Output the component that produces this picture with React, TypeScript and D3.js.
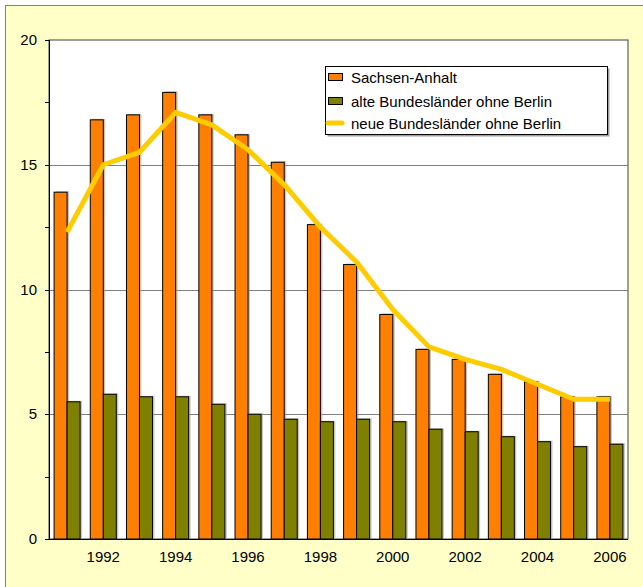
import * as d3 from "d3";
import React, { useRef, useEffect } from "react";

// Jahre und Werte (Schätzwerte aus der Grafik)
const years = [1991, 1992, 1993, 1994, 1995, 1996, 1997, 1998, 1999, 2000, 2001, 2002, 2003, 2004, 2005, 2006];
const sachsenAnhalt = [13.9, 16.8, 17.0, 17.9, 17.0, 16.2, 15.1, 12.6, 11.0, 9.0, 7.6, 7.2, 6.6, 6.3, 5.7, 5.7];
const alteLaender = [5.5, 5.8, 5.7, 5.7, 5.4, 5.0, 4.8, 4.7, 4.8, 4.7, 4.4, 4.3, 4.1, 3.9, 3.7, 3.8];
const neueLaender = [12.3, 15.0, 15.5, 17.1, 16.6, 15.6, 14.2, 12.5, 11.1, 9.2, 7.7, 7.2, 6.8, 6.2, 5.6, 5.6];
const yTicks = [0, 5, 10, 15, 20];
const seriesNames = ["Sachsen-Anhalt", "alte Bundesländer ohne Berlin", "neue Bundesländer ohne Berlin"];

const W = 643;
const H = 587;
const left = 49;
const top = 40;
const right = 628;
const bottom = 539;
const font = "'Liberation Sans', Arial, sans-serif";

function App() {
  const ref = useRef<SVGSVGElement>(null);

  useEffect(() => {
    const svg = d3.select(ref.current);
    svg.selectAll("*").remove();

    // Hintergrund
    svg.append("rect").attr("width", W).attr("height", H).attr("fill", "#ffffff");
    svg
      .append("rect")
      .attr("x", 5.5)
      .attr("y", 5.5)
      .attr("width", W + 10)
      .attr("height", H + 10)
      .attr("fill", "#ffffc8")
      .attr("stroke", "#808080");

    const x = d3.scaleBand<number>().domain(years).range([left, right]);
    const y = d3.scaleLinear().domain([0, 20]).range([bottom, top]);

    svg
      .append("rect")
      .attr("x", left)
      .attr("y", top)
      .attr("width", right - left)
      .attr("height", bottom - top)
      .attr("fill", "#ffffff")
      .attr("stroke", "#404040");

    // Gitterlinien
    svg
      .append("g")
      .selectAll("line")
      .data([5, 10, 15])
      .enter()
      .append("line")
      .attr("x1", left)
      .attr("x2", right)
      .attr("y1", (d) => Math.round(y(d)) + 0.5)
      .attr("y2", (d) => Math.round(y(d)) + 0.5)
      .attr("stroke", "#808080");

    const bw = 13;
    const drawBars = (vals: number[], offset: number, color: string) => {
      const g = svg.append("g");
      g.selectAll("rect.shadow")
        .data(vals)
        .enter()
        .append("rect")
        .attr("class", "shadow")
        .attr("x", (d, i) => x(years[i])! + x.bandwidth() / 2 + offset + 2)
        .attr("y", (d) => y(d) - 1)
        .attr("width", bw)
        .attr("height", (d) => bottom - y(d))
        .attr("fill", "#a0a0a0")
        .attr("opacity", 0.6);
      g.selectAll("rect.bar")
        .data(vals)
        .enter()
        .append("rect")
        .attr("class", "bar")
        .attr("x", (d, i) => x(years[i])! + x.bandwidth() / 2 + offset)
        .attr("y", (d) => y(d))
        .attr("width", bw)
        .attr("height", (d) => bottom - y(d))
        .attr("fill", color)
        .attr("stroke", "#000")
        .attr("stroke-width", 1);
    };
    drawBars(sachsenAnhalt, -bw, "#ff8000");
    drawBars(alteLaender, 0, "#808000");

    // Linie
    const line = d3
      .line<number>()
      .x((d, i) => x(years[i])! + x.bandwidth() / 2)
      .y((d) => y(d));
    svg
      .append("path")
      .datum(neueLaender)
      .attr("d", line)
      .attr("fill", "none")
      .attr("stroke", "#ffcc00")
      .attr("stroke-width", 5)
      .attr("stroke-linejoin", "round");

    // Achsen
    svg
      .append("line")
      .attr("x1", left + 0.5)
      .attr("x2", left + 0.5)
      .attr("y1", top)
      .attr("y2", bottom)
      .attr("stroke", "#000");
    svg
      .append("line")
      .attr("x1", left)
      .attr("x2", right)
      .attr("y1", bottom + 0.5)
      .attr("y2", bottom + 0.5)
      .attr("stroke", "#000");

    svg
      .append("g")
      .selectAll("line")
      .data(d3.range(0, 20.1, 2.5))
      .enter()
      .append("line")
      .attr("x1", left - 4)
      .attr("x2", left)
      .attr("y1", (d) => Math.round(y(d)) + 0.5)
      .attr("y2", (d) => Math.round(y(d)) + 0.5)
      .attr("stroke", "#000");

    svg
      .append("g")
      .selectAll("text")
      .data(yTicks)
      .enter()
      .append("text")
      .attr("x", 37)
      .attr("y", (d) => y(d) + 5)
      .attr("text-anchor", "end")
      .attr("font-family", font)
      .attr("font-size", 15)
      .text((d) => d);

    svg
      .append("g")
      .selectAll("text")
      .data(years.filter((d) => d % 2 === 0))
      .enter()
      .append("text")
      .attr("x", (d) => x(d)! + x.bandwidth() / 2)
      .attr("y", 562)
      .attr("text-anchor", "middle")
      .attr("font-family", font)
      .attr("font-size", 15)
      .text((d) => d);

    // Legende
    const lg = svg.append("g").attr("transform", "translate(325,66)");
    lg.append("rect")
      .attr("x", 2.5)
      .attr("y", 2.5)
      .attr("width", 282)
      .attr("height", 68)
      .attr("fill", "#a0a0a0");
    lg.append("rect")
      .attr("x", 0.5)
      .attr("y", 0.5)
      .attr("width", 282)
      .attr("height", 68)
      .attr("fill", "#ffffff")
      .attr("stroke", "#000");
    const rows = [11, 35, 57];
    lg.append("rect").attr("x", 3.5).attr("y", rows[0] - 3.5).attr("width", 14).attr("height", 7).attr("fill", "#ff8000").attr("stroke", "#000");
    lg.append("rect").attr("x", 3.5).attr("y", rows[1] - 3.5).attr("width", 14).attr("height", 7).attr("fill", "#808000").attr("stroke", "#000");
    lg.append("line")
      .attr("x1", 3)
      .attr("x2", 17)
      .attr("y1", rows[2])
      .attr("y2", rows[2])
      .attr("stroke", "#ffcc00")
      .attr("stroke-width", 5)
      .attr("stroke-linecap", "round");
    lg.selectAll("text")
      .data(seriesNames)
      .enter()
      .append("text")
      .attr("x", 26)
      .attr("y", (d, i) => rows[i] + 5.5)
      .attr("font-family", font)
      .attr("font-size", 15)
      .text((d) => d);
  }, []);

  return (
    <svg
      ref={ref}
      width={W}
      height={H}
      style={{ position: "absolute", left: 0, top: 0 }}
    ></svg>
  );
}

export default App;
